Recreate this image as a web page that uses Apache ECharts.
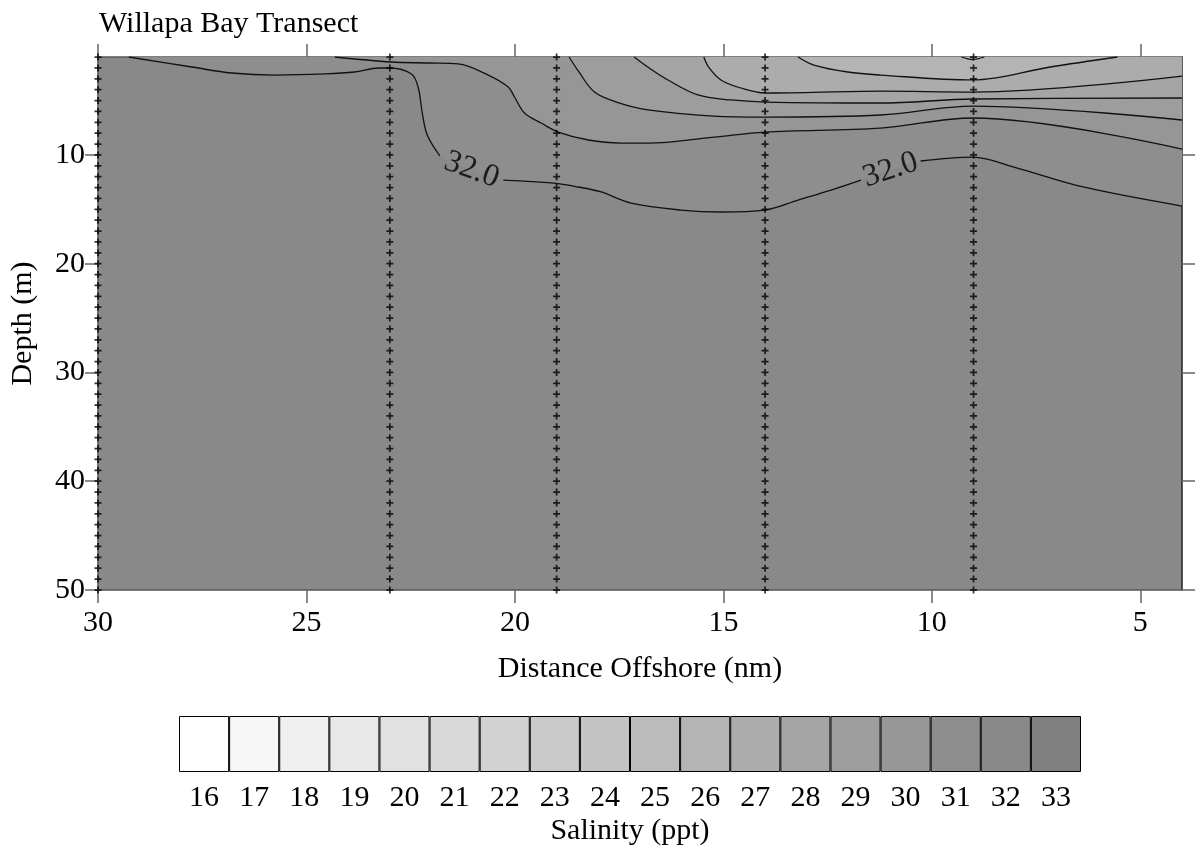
<!DOCTYPE html>
<html>
<head>
<meta charset="utf-8">
<script src="https://cdn.jsdelivr.net/npm/echarts@6/dist/echarts.min.js"></script>
<style>
html,body{margin:0;padding:0;background:#ffffff;}
#chart{width:1203px;height:854px;}
</style>
</head>
<body>
<div id="chart"></div>
<script>
// ---- tick labels ----
const distanceTicks = [30, 25, 20, 15, 10, 5];
const depthTicks = [10, 20, 30, 40, 50];

// ---- CTD stations (distance offshore, nm) and sample depths (m) ----
const stations = [30, 23, 19, 14, 9];
const sampleDepths = [1,2,3,4,5,6,7,8,9,10,11,12,13,14,15,16,17,18,19,20,21,22,23,24,25,
  26,27,28,29,30,31,32,33,34,35,36,37,38,39,40,41,42,43,44,45,46,47,48,49,50];

// ---- salinity legend ----
const legendLevels = ['16','17','18','19','20','21','22','23','24','25','26','27','28','29','30','31','32','33'];
const legendGrays = ['#ffffff','#f7f7f7','#f0f0f0','#e8e8e8','#e1e1e1','#d9d9d9','#d2d2d2','#cacaca',
  '#c3c3c3','#bbbbbb','#b4b4b4','#acacac','#a5a5a5','#9d9d9d','#969696','#8e8e8e','#898989','#808080'];

// ---- salinity contours: [distance (nm), depth (m)] ----
const contour32 = [[29.26,1.00],[27.75,1.92],[26.79,2.47],[25.76,2.66],[24.56,2.56],[23.85,2.38],
  [23.27,2.01],[23.01,2.01],[22.48,2.56],[22.32,3.80],[22.22,6.20],[22.10,8.20],[21.80,10.10],
  [21.04,11.39],[20.28,12.31],[19.06,12.59],[18.48,12.95],[17.93,13.41],[17.21,14.43],[16.02,15.07],
  [15.06,15.25],[14.00,15.07],[13.21,14.15],[12.42,13.23],[11.70,12.31],[10.99,11.39],[10.27,10.56],
  [9.02,10.20],[7.95,11.21],[6.37,12.95],[4.00,14.70]];
const contour31 = [[24.32,1.00],[22.96,1.46],[22.07,1.55],[21.36,1.64],[20.64,2.66],[20.16,3.76],
  [20.01,4.68],[19.77,6.15],[19.37,7.07],[18.96,7.90],[18.24,8.63],[17.45,8.91],[16.81,8.91],
  [15.23,8.36],[14.00,7.90],[11.23,7.53],[9.02,6.61],[4.00,9.46]];
const contour30 = [[18.70,1.00],[18.46,2.40],[18.10,4.20],[17.60,5.10],[16.81,5.87],[15.23,6.43],
  [14.00,6.52],[11.23,6.33],[9.02,5.51],[4.00,6.79]];
const contour29 = [[17.14,1.00],[16.78,2.01],[16.33,3.11],[15.61,4.49],[14.82,4.95],[14.00,5.14],
  [11.23,5.23],[9.02,4.86],[4.00,4.77]];
const contour28 = [[15.47,1.00],[15.34,2.01],[15.06,3.11],[14.58,3.85],[14.00,4.31],[11.23,4.13],
  [9.02,4.22],[4.00,2.75]];
const contour27 = [[13.21,1.00],[12.83,1.74],[12.02,2.38],[11.23,2.66],[9.02,3.11],[7.16,1.92],[5.55,1.00]];
const contour26 = [[9.29,1.00],[9.02,1.23],[8.74,1.00]];

const contourLevels = [32, 31, 30, 29, 28, 27, 26];
const contourLines = [contour32, contour31, contour30, contour29, contour28, contour27, contour26];

// contour labels: level, distance, depth, text angle
const contourLabelLevels = [32, 32];
const contourLabelX = [21.04, 10.99];
const contourLabelDepth = [11.39, 11.39];
const contourLabelAngle = [-20, 18];

// ---------------------------------------------------------------
const FONT = "'Liberation Serif', 'Times New Roman', serif";
const grayOf = lvl => legendGrays[lvl - 16];
const SMOOTH = 0.35;

const series = [];

// filled bands (each contour fills towards the surface with the next-lower band colour)
contourLevels.forEach((lvl, i) => {
  series.push({
    type: 'line', xAxisIndex: 0, yAxisIndex: 0,
    data: contourLines[i],
    smooth: SMOOTH,
    symbol: 'none', silent: true, z: 1,
    lineStyle: { width: 0, opacity: 0 },
    areaStyle: { color: grayOf(lvl - 1), opacity: 1, origin: 'start' }
  });
});

// contour lines, broken where a label sits
contourLevels.forEach((lvl, i) => {
  const data = contourLines[i].map(p => {
    const hit = contourLabelX.some((x, k) => contourLabelLevels[k] === lvl && Math.abs(x - p[0]) < 1e-6);
    return hit ? [p[0], '-'] : p;
  });
  series.push({
    type: 'line', xAxisIndex: 0, yAxisIndex: 0,
    data: data, connectNulls: false,
    smooth: SMOOTH,
    symbol: 'none', silent: true, z: 3,
    lineStyle: { width: 1.3, color: '#111' }
  });
});

// station sample crosses
const crossData = [];
stations.forEach(s => sampleDepths.forEach(d => crossData.push([s, d])));
series.push({
  type: 'scatter', xAxisIndex: 0, yAxisIndex: 0,
  data: crossData, clip: false, silent: true, z: 5,
  symbol: 'path://M3,0H5V3H8V5H5V8H3V5H0V3H3Z',
  symbolSize: 7,
  itemStyle: { color: '#000' }
});

// contour labels
series.push({
  type: 'scatter', xAxisIndex: 0, yAxisIndex: 0,
  data: contourLabelX.map((x, k) => ({
    value: [x, contourLabelDepth[k]],
    label: { rotate: contourLabelAngle[k], formatter: contourLabelLevels[k].toFixed(1) }
  })),
  symbol: 'circle', symbolSize: 1,
  itemStyle: { color: 'rgba(0,0,0,0)' },
  silent: true, z: 6, clip: false,
  label: { show: true, position: 'inside', fontFamily: FONT, fontSize: 32, color: '#000' }
});

// legend colour boxes
series.push({
  type: 'bar', xAxisIndex: 2, yAxisIndex: 2,
  data: legendLevels.map((l, i) => ({ value: 1, itemStyle: { color: legendGrays[i] } })),
  barWidth: '100%', barCategoryGap: 0, silent: true,
  itemStyle: { borderColor: '#000', borderWidth: 1 }
});

const axisLineStyle = { color: '#555', width: 1.5 };
const tickStyle = { color: '#666', width: 1.5 };

const option = {
  animation: false,
  backgroundColor: '#ffffff',
  title: {
    text: 'Willapa Bay Transect', left: 94, top: 4,
    textStyle: { fontFamily: FONT, fontSize: 30, fontWeight: 'normal', color: '#000' }
  },
  grid: [
    { left: 96, right: 21, top: 57, bottom: 264, show: true, backgroundColor: grayOf(32), borderWidth: 0 },
    { left: 179, width: 902, top: 716, height: 56 }
  ],
  xAxis: [
    {
      gridIndex: 0, type: 'value', min: 4, max: 30, inverse: true, position: 'bottom',
      axisLine: { show: true, onZero: false, lineStyle: axisLineStyle },
      axisTick: { show: true, customValues: distanceTicks, length: 13, inside: false, lineStyle: tickStyle },
      axisLabel: { show: true, customValues: distanceTicks, fontFamily: FONT, fontSize: 30, color: '#000', margin: 18 },
      splitLine: { show: false },
      name: 'Distance Offshore (nm)', nameLocation: 'middle', nameGap: 64,
      nameTextStyle: { fontFamily: FONT, fontSize: 30, color: '#000' }
    },
    {
      gridIndex: 0, type: 'value', min: 4, max: 30, inverse: true, position: 'top',
      axisLine: { show: true, onZero: false, lineStyle: axisLineStyle },
      axisTick: { show: true, customValues: distanceTicks, length: 13, inside: false, lineStyle: tickStyle },
      axisLabel: { show: false },
      splitLine: { show: false }
    },
    {
      gridIndex: 1, type: 'category', data: legendLevels,
      axisLine: { show: false }, axisTick: { show: false },
      axisLabel: { fontFamily: FONT, fontSize: 30, color: '#000', margin: 11 },
      name: 'Salinity (ppt)', nameLocation: 'middle', nameGap: 44,
      nameTextStyle: { fontFamily: FONT, fontSize: 30, color: '#000' }
    }
  ],
  yAxis: [
    {
      gridIndex: 0, type: 'value', min: 1, max: 50, inverse: true, position: 'left',
      axisLine: { show: true, onZero: false, lineStyle: axisLineStyle },
      axisTick: { show: true, customValues: depthTicks, length: 13, inside: false, lineStyle: tickStyle },
      axisLabel: { show: true, customValues: depthTicks, fontFamily: FONT, fontSize: 30, color: '#000', margin: 13 },
      splitLine: { show: false },
      name: 'Depth (m)', nameLocation: 'middle', nameGap: 60, nameRotate: 90,
      nameTextStyle: { fontFamily: FONT, fontSize: 30, color: '#000' }
    },
    {
      gridIndex: 0, type: 'value', min: 1, max: 50, inverse: true, position: 'right',
      axisLine: { show: true, onZero: false, lineStyle: { color: '#222', width: 1.5 } },
      axisTick: { show: true, customValues: depthTicks, length: 13, inside: false, lineStyle: tickStyle },
      axisLabel: { show: false },
      splitLine: { show: false }
    },
    {
      gridIndex: 1, type: 'value', min: 0, max: 1, show: false
    }
  ],
  series: series
};

const chart = echarts.init(document.getElementById('chart'), null, { renderer: 'canvas' });
chart.setOption(option);
</script>
</body>
</html>
